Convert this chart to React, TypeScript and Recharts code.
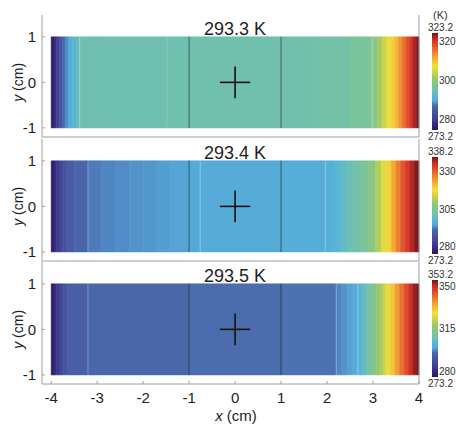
import React from 'react'
import {
  ComposedChart,
  XAxis,
  YAxis,
  ReferenceArea,
  ReferenceLine,
  ReferenceDot,
  Label,
} from 'recharts'

const FONT = '"Liberation Sans", Arial, Helvetica, sans-serif'
const FRAME = '#a0a0a0'
const INK = '#1e1e1e'

// temperature scale (K)
const T_MIN = 273.2
const T_MAX = [323.2, 338.2, 353.2]
const TITLES = ['293.3 K', '293.4 K', '293.5 K']
const CB_TICKS_1 = [320, 300, 280]
const CB_TICKS_2 = [330, 305, 280]
const CB_TICKS_3 = [350, 315, 280]

const X_TICKS = [-4, -3, -2, -1, 0, 1, 2, 3, 4]
const Y_TICKS = [-1, 0, 1]
const X_DOMAIN = [-4.2, 4]
const Y_DOMAIN = [-1.2, 1.48]

// band edges along x (cm) and band temperature (K), one band between two edges
const EDGES_1 = [-4, -3.94, -3.88, -3.82, -3.76, -3.7, -3.62, -3.54, -3.46, -3.38, -2.8, -1.5, -1, 1, 1.8, 2.5, 2.98, 3.1, 3.2, 3.3, 3.4, 3.48, 3.56, 3.64, 3.72, 3.8, 3.87, 3.94, 4]
const TEMPS_1 = [274.2, 276.7, 279.2, 282.2, 285.2, 287.2, 289.2, 290.7, 292.2, 293.0, 293.1, 293.2, 293.3, 293.4, 294.0, 295.5, 298, 300.5, 303, 305.5, 307.5, 309.5, 312, 314.5, 317, 319, 321, 322.7]

const EDGES_2 = [-4, -3.94, -3.88, -3.81, -3.74, -3.66, -3.5, -3.2, -2.9, -2.6, -2.3, -2.0, -1.7, -1.4, -1, -0.76, 1, 1.96, 2.15, 2.3, 2.45, 2.6, 2.75, 2.9, 3.05, 3.18, 3.3, 3.4, 3.5, 3.6, 3.7, 3.8, 3.9, 4]
const TEMPS_2 = [274.5, 277.1, 279.7, 282.3, 284.2, 286.9, 288.8, 290.4, 290.9, 291.3, 291.7, 292.0, 292.4, 292.7, 293.0, 293.4, 293.7, 294.8, 296.0, 297.3, 298.8, 300.6, 302.6, 305.2, 309.6, 314.1, 317.4, 321.3, 325.2, 329.1, 332.4, 335.0, 337.6]

const EDGES_3 = [-4, -3.94, -3.88, -3.81, -3.74, -3.64, -3.2, -1, 1, 2.2, 2.32, 2.45, 2.56, 2.67, 2.76, 2.85, 2.93, 3.0, 3.08, 3.15, 3.22, 3.28, 3.38, 3.48, 3.58, 3.68, 3.78, 3.87, 3.94, 4]
const TEMPS_3 = [274.8, 278.0, 281.2, 284.4, 287.6, 290.8, 292.8, 293.5, 293.8, 295.0, 296.0, 297.0, 298.0, 300.5, 303.0, 306.0, 309.0, 312.0, 315.0, 317.5, 320.5, 324.4, 329.2, 334.0, 338.8, 343.6, 347.6, 350.8, 352.8]

// material boundaries
const DARK_LINES = [-1, 1]
const LIGHT_LINES_1 = [-3.38, 2.98]
const FAINT_LINES_1 = [-1.48]
const LIGHT_LINES_2 = [-3.2, -0.76, 1.96]
const LIGHT_LINES_3 = [-3.2, 2.2, 2.67]

const CROSS_X = 0.33
const CROSS_Y = 0.35

// colormap
const CMAP_POS = [0, 0.05, 0.1, 0.17, 0.25, 0.275, 0.305, 0.35, 0.4, 0.47, 0.53, 0.6, 0.66, 0.72, 0.8, 0.88, 0.94, 1]
const CMAP_COL = ['#2b1a55', '#35257a', '#3d3a90', '#4650a0', '#4a68aa', '#5088c4', '#56aad8', '#58b6d4', '#70c0ae', '#80c490', '#98c870', '#d0d448', '#f2e03a', '#f4b83a', '#ee8030', '#e04a2c', '#c82a28', '#6e1818']

const hex = (s: string) => [1, 3, 5].map(i => parseInt(s.slice(i, i + 2), 16))

function colorAt(f: number) {
  const t = Math.min(1, Math.max(0, f))
  let k = 1
  while (k < CMAP_POS.length - 1 && CMAP_POS[k] < t) k++
  const a = CMAP_POS[k - 1]
  const b = CMAP_POS[k]
  const u = b > a ? (t - a) / (b - a) : 0
  const c0 = hex(CMAP_COL[k - 1])
  const c1 = hex(CMAP_COL[k])
  return `rgb(${c0.map((v, j) => Math.round(v + (c1[j] - v) * u)).join(',')})`
}

const GRADIENT = `linear-gradient(to top, ${CMAP_COL.map((c, i) => `${c} ${CMAP_POS[i] * 100}%`).join(', ')})`

const W = 456
const H = 425
const PLOT_H = 122
const LEFT = 42
const RIGHT = 37

const PANELS = [
  { top: 15, edges: EDGES_1, temps: TEMPS_1, tMax: T_MAX[0], title: TITLES[0], light: LIGHT_LINES_1, faint: FAINT_LINES_1, cbTicks: CB_TICKS_1 },
  { top: 139, edges: EDGES_2, temps: TEMPS_2, tMax: T_MAX[1], title: TITLES[1], light: LIGHT_LINES_2, faint: [] as number[], cbTicks: CB_TICKS_2 },
  { top: 262, edges: EDGES_3, temps: TEMPS_3, tMax: T_MAX[2], title: TITLES[2], light: LIGHT_LINES_3, faint: [] as number[], cbTicks: CB_TICKS_3 },
]

type PanelProps = (typeof PANELS)[number] & { last: boolean }

function Panel({ top, edges, temps, tMax, title, light, faint, last }: PanelProps) {
  const zeroY = top + (Y_DOMAIN[1] / (Y_DOMAIN[1] - Y_DOMAIN[0])) * PLOT_H
  const rows = edges.map(x => ({ x, y: 0 }))
  return (
    <div style={{ position: 'absolute', left: 0, top: 0 }}>
      <ComposedChart
        width={W}
        height={H}
        data={rows}
        margin={{ top, right: 0, bottom: 0, left: 0 }}
      >
        <XAxis
          dataKey="x"
          type="number"
          domain={X_DOMAIN}
          ticks={X_TICKS}
          allowDataOverflow
          interval={0}
          height={H - top - PLOT_H}
          axisLine={{ stroke: FRAME }}
          tickLine={{ stroke: FRAME }}
          tickSize={-3}
          tickMargin={11}
          tick={last ? { fontSize: 15, fill: INK, fontFamily: FONT } : false}
        >
          {last && (
            <Label
              content={() => (
                <text x={236} y={421} textAnchor="middle" fontSize={15} fill={INK} fontFamily={FONT}>
                  <tspan fontStyle="italic">x</tspan>
                  <tspan>{' (cm)'}</tspan>
                </text>
              )}
            />
          )}
        </XAxis>
        <XAxis
          xAxisId="t"
          dataKey="x"
          orientation="top"
          type="number"
          domain={X_DOMAIN}
          ticks={X_TICKS}
          allowDataOverflow
          interval={0}
          height={0}
          axisLine={{ stroke: FRAME }}
          tickLine={{ stroke: FRAME }}
          tickSize={-3}
          tick={false}
        />
        <YAxis
          dataKey="y"
          type="number"
          domain={Y_DOMAIN}
          ticks={Y_TICKS}
          allowDataOverflow
          interval={0}
          width={LEFT}
          axisLine={{ stroke: FRAME }}
          tickLine={{ stroke: FRAME }}
          tickSize={-3}
          tickMargin={9}
          tick={{ fontSize: 15, fill: INK, fontFamily: FONT }}
        >
          <Label
            content={() => (
              <text
                x={0}
                y={0}
                transform={`translate(23, ${zeroY}) rotate(-90)`}
                textAnchor="middle"
                fontSize={14}
                fill={INK}
                fontFamily={FONT}
              >
                <tspan fontStyle="italic">y</tspan>
                <tspan>{' (cm)'}</tspan>
              </text>
            )}
          />
        </YAxis>
        <YAxis
          yAxisId="r"
          dataKey="y"
          orientation="right"
          type="number"
          domain={Y_DOMAIN}
          ticks={Y_TICKS}
          allowDataOverflow
          width={RIGHT}
          axisLine={{ stroke: FRAME }}
          tickLine={{ stroke: FRAME }}
          tickSize={-3}
          tick={false}
        />

        {temps.map((t, i) => {
          const c = colorAt((t - T_MIN) / (tMax - T_MIN))
          return (
            <ReferenceArea
              key={`band-${i}`}
              x1={edges[i]}
              x2={edges[i + 1]}
              y1={-1}
              y2={1}
              fill={c}
              fillOpacity={1}
              stroke={c}
              strokeWidth={0.6}
              ifOverflow="visible"
            />
          )
        })}

        {light.map(v => (
          <ReferenceLine
            key={`l-${v}`}
            segment={[{ x: v, y: -1 }, { x: v, y: 1 }]}
            stroke="#ffffff"
            strokeOpacity={0.3}
            strokeWidth={1}
            ifOverflow="visible"
          />
        ))}
        {faint.map(v => (
          <ReferenceLine
            key={`f-${v}`}
            segment={[{ x: v, y: -1 }, { x: v, y: 1 }]}
            stroke="#ffffff"
            strokeOpacity={0.12}
            strokeWidth={1}
            ifOverflow="visible"
          />
        ))}
        {DARK_LINES.map(v => (
          <ReferenceLine
            key={`d-${v}`}
            segment={[{ x: v, y: -1 }, { x: v, y: 1 }]}
            stroke="#14202c"
            strokeOpacity={0.55}
            strokeWidth={1.1}
            ifOverflow="visible"
          />
        ))}

        <ReferenceLine
          segment={[{ x: -CROSS_X, y: 0 }, { x: CROSS_X, y: 0 }]}
          stroke="#111"
          strokeWidth={1.6}
          ifOverflow="visible"
        />
        <ReferenceLine
          segment={[{ x: 0, y: -CROSS_Y }, { x: 0, y: CROSS_Y }]}
          stroke="#111"
          strokeWidth={1.6}
          ifOverflow="visible"
        />

        <ReferenceDot
          x={0}
          y={1.19}
          r={0}
          fill="none"
          stroke="none"
          ifOverflow="visible"
          label={{ value: title, position: 'center', fontSize: 18, fill: INK, fontFamily: FONT }}
        />
      </ComposedChart>
    </div>
  )
}

function ColorBar({ top, tMax, cbTicks }: PanelProps) {
  const cbTop = top + 18
  const cbH = 97
  const lbl: React.CSSProperties = {
    position: 'absolute',
    fontSize: 10,
    lineHeight: '10px',
    color: '#333',
    fontFamily: FONT,
    transform: 'translateY(-50%)',
    whiteSpace: 'nowrap',
  }
  return (
    <>
      <div
        style={{
          position: 'absolute',
          left: 432,
          top: cbTop,
          width: 6,
          height: cbH,
          background: GRADIENT,
        }}
      />
      <span style={{ ...lbl, left: 428, top: cbTop - 5 }}>{tMax.toFixed(1)}</span>
      <span style={{ ...lbl, left: 428, top: cbTop + cbH + 7 }}>{T_MIN.toFixed(1)}</span>
      {cbTicks.map(v => (
        <span
          key={v}
          style={{ ...lbl, left: 439, top: cbTop + ((tMax - v) / (tMax - T_MIN)) * cbH + 3 }}
        >
          {v}
        </span>
      ))}
    </>
  )
}

export default function App() {
  return (
    <div
      style={{
        position: 'absolute',
        left: 0,
        top: 0,
        width: W,
        height: H,
        background: '#fff',
        fontFamily: FONT,
        overflow: 'hidden',
      }}
    >
      {PANELS.map((p, i) => (
        <Panel key={i} {...p} last={i === PANELS.length - 1} />
      ))}
      {PANELS.map((p, i) => (
        <ColorBar key={`cb-${i}`} {...p} last={false} />
      ))}
      <span
        style={{
          position: 'absolute',
          left: 433,
          top: 15,
          transform: 'translateY(-50%)',
          fontSize: 11,
          lineHeight: '11px',
          color: '#333',
          fontFamily: FONT,
        }}
      >
        (K)
      </span>
    </div>
  )
}
